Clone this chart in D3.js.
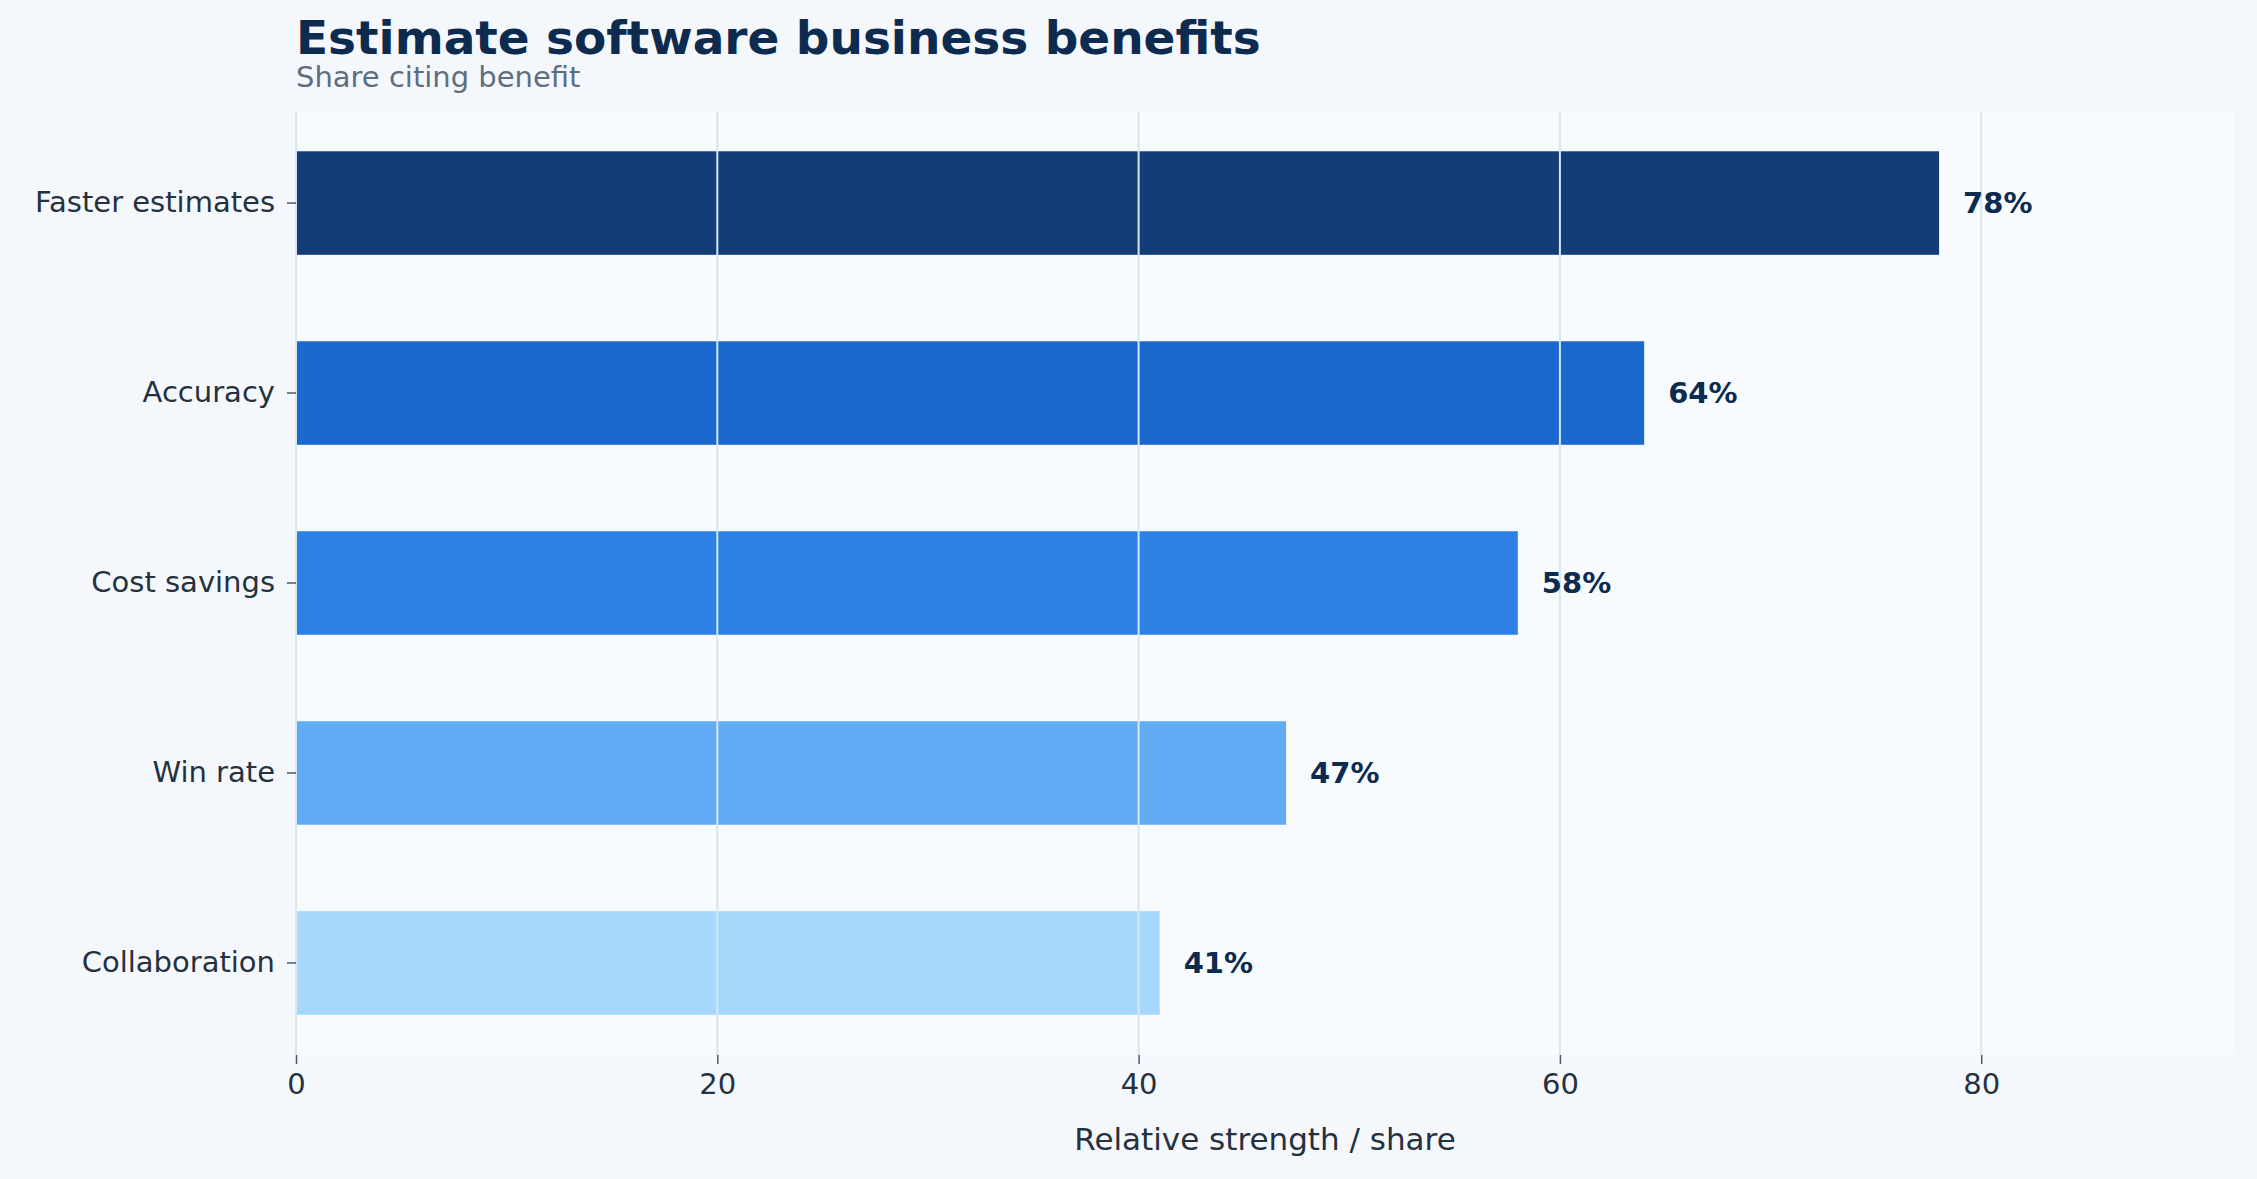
<!DOCTYPE html>
<html><head><meta charset="utf-8">
<script src="https://cdn.jsdelivr.net/npm/d3@7"></script>
<style>body{margin:0;background:#f4f8fc;font-family:"DejaVu Sans",sans-serif}</style>
</head><body><div id="chart"></div>
<script>
const categories = ["Faster estimates", "Accuracy", "Cost savings", "Win rate", "Collaboration"];
const values = [78, 64, 58, 47, 41];
const colors = ["#143d78", "#1b68d0", "#2f80e6", "#62acf5", "#a6d8fd"];
const xTicks = [0, 20, 40, 60, 80];

const W = 2257, H = 1179;
const m = {top: 111, right: 23, bottom: 124, left: 296};

const svg = d3.select('#chart').append('svg')
  .attr('width', W).attr('height', H);
svg.append('rect').attr('width', W).attr('height', H).attr('fill', '#f4f8fc');

const x = d3.scaleLinear().domain([0, 92]).range([m.left, W - m.right]);
const y = d3.scaleBand().domain(categories).range([m.top, H - m.bottom])
  .paddingInner(0.455).paddingOuter(0.212);

svg.append('rect').attr('x', m.left).attr('y', m.top)
  .attr('width', W - m.right - m.left).attr('height', H - m.bottom - m.top)
  .attr('fill', '#f8fbfe');

svg.selectAll('.bar').data(values).enter().append('rect')
  .attr('x', x(0)).attr('y', (d, i) => y(categories[i]))
  .attr('width', d => x(d) - x(0)).attr('height', y.bandwidth())
  .attr('fill', (d, i) => colors[i]);

// grid on top
svg.selectAll('.grid').data(xTicks).enter().append('line')
  .attr('x1', d => x(d)).attr('x2', d => x(d))
  .attr('y1', m.top).attr('y2', H - m.bottom)
  .attr('stroke', '#d5e8f0').attr('stroke-width', 2);

svg.selectAll('.lbl').data(values).enter().append('text')
  .attr('x', d => x(d) + 24).attr('y', (d, i) => y(categories[i]) + y.bandwidth() / 2)
  .attr('dy', '0.35em').attr('font-size', 29).attr('font-weight', 'bold')
  .attr('fill', '#0d2a4f').text(d => d + '%');

const xAxis = svg.append('g').attr('transform', `translate(0,${H - m.bottom})`)
  .call(d3.axisBottom(x).tickValues(xTicks).tickSize(9).tickPadding(9));
const yAxis = svg.append('g').attr('transform', `translate(${m.left},0)`)
  .call(d3.axisLeft(y).tickSize(9).tickPadding(12));
[xAxis, yAxis].forEach(a => {
  a.select('.domain').remove();
  a.selectAll('line').attr('stroke', '#4a5868').attr('stroke-width', 1.5);
  a.selectAll('text').attr('font-size', 29).attr('fill', '#25313f')
    .attr('font-family', '"DejaVu Sans", sans-serif');
});

svg.append('text').attr('x', (m.left + W - m.right) / 2).attr('y', 1150)
  .attr('text-anchor', 'middle').attr('font-size', 31).attr('fill', '#25313f')
  .text('Relative strength / share');
svg.append('text').attr('x', m.left).attr('y', 54)
  .attr('font-size', 47).attr('font-weight', 'bold').attr('fill', '#0d2a4f')
  .text('Estimate software business benefits');
svg.append('text').attr('x', m.left).attr('y', 87)
  .attr('font-size', 29).attr('fill', '#5e6e7e').text('Share citing benefit');
</script></body></html>
